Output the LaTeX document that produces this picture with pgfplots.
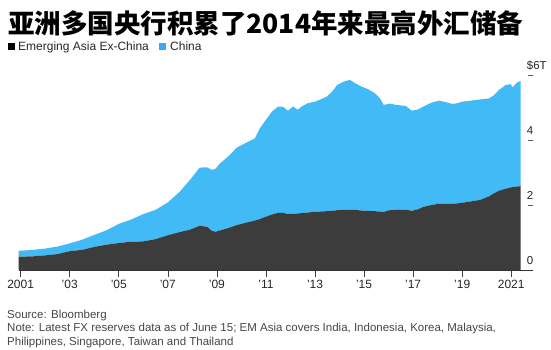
\documentclass[border=0pt]{standalone}
\usepackage{pgfplots}
\usepackage{pgfplotstable}
\pgfplotsset{compat=1.18}
\usepackage{fontspec}
\setmainfont{Liberation Sans}
\newfontfamily\cjk{Noto Sans CJK SC}
\definecolor{cnblue}{RGB}{66,186,245}
\definecolor{emgray}{RGB}{60,60,60}
\definecolor{txtgray}{RGB}{70,70,70}

\pgfplotstableread{
x        em    cn
2000.92  0.41  0.18
2001.5   0.42  0.20
2002.0   0.45  0.21
2002.5   0.49  0.23
2003.0   0.58  0.24
2003.5   0.62  0.31
2004.0   0.71  0.37
2004.5   0.78  0.44
2005.0   0.83  0.59
2005.5   0.87  0.68
2006.0   0.88  0.84
2006.5   0.95  0.90
2007.0   1.07  1.01
2007.5   1.17  1.25
2007.9   1.24  1.53
2008.3   1.36  1.79
2008.6   1.33  1.83
2008.8   1.20  1.88
2008.95  1.18  1.94
2009.1   1.21  2.05
2009.5   1.30  2.22
2009.8   1.38  2.38
2010.2   1.46  2.46
2010.55  1.52  2.53
2010.75  1.57  2.79
2011.0   1.64  2.98
2011.25  1.71  3.17
2011.5   1.76  3.27
2011.7   1.76  3.26
2011.9   1.72  3.18
2012.1   1.73  3.30
2012.3   1.74  3.19
2012.45  1.75  3.28
2012.7   1.77  3.36
2013.0   1.79  3.39
2013.2   1.80  3.44
2013.47  1.81  3.52
2013.7   1.82  3.67
2013.9   1.84  3.85
2014.15  1.85  3.94
2014.42  1.86  3.99
2014.63  1.85  3.90
2014.9   1.83  3.81
2015.17  1.82  3.74
2015.44  1.81  3.63
2015.65  1.80  3.48
2015.8   1.79  3.29
2016.05  1.84  3.28
2016.3   1.85  3.23
2016.7   1.86  3.19
2016.94  1.82  3.08
2017.2   1.87  3.07
2017.45  1.95  3.09
2017.75  2.00  3.15
2018.05  2.04  3.17
2018.25  2.04  3.14
2018.6   2.04  3.07
2018.8   2.05  3.08
2019.0   2.07  3.11
2019.35  2.11  3.10
2019.75  2.16  3.09
2020.1   2.27  3.01
2020.3   2.36  3.02
2020.5   2.44  3.10
2020.77  2.50  3.19
2020.97  2.54  3.18
2021.06  2.55  3.07
2021.22  2.57  3.19
2021.38  2.58  3.24
}\data

\begin{document}
\begin{tikzpicture}[x=1pt,y=1pt]
\useasboundingbox (0,0) rectangle (551,349);
\begin{axis}[
  at={(18.7pt,79pt)}, anchor=south west,
  scale only axis, width=508pt, height=201.5pt,
  xmin=2000.92, xmax=2021.63, ymin=0, ymax=6.2,
  stack plots=y,
  axis on top,
  axis x line*=bottom, axis y line*=right,
  x axis line style={draw=black!80, line width=0.8pt, shorten >=-6.6pt},
  y axis line style={draw=white, line width=0.05pt},
  tick align=outside,
  major tick length=6.5pt,
  xtick={2001,2003,...,2021},
  xticklabels={2001,’03,’05,’07,’09,’11,’13,’15,’17,’19,2021},
  ytick={0,2,4,6},
  yticklabels={0,2,4,\$6T},
  x tick style={draw=black!75, line width=0.6pt},
  y tick style={draw=black!65, line width=1pt},
  xticklabel style={font=\fontsize{12}{14}\selectfont, text=black!85},
  yticklabel style={font=\fontsize{11.5}{13}\selectfont, text=black!85, anchor=base west, inner sep=0pt, xshift=-6.5pt, yshift=6pt},
]
\addplot[fill=emgray, draw=none] table[x=x, y=em]{\data} \closedcycle;
\addplot[fill=cnblue, draw=none] table[x=x, y=cn]{\data} \closedcycle;
\end{axis}
% title
\node[anchor=base west, inner sep=0pt] at (8,316) {\cjk\bfseries\fontsize{26.5}{30}\selectfont 亚洲多国央行积累了2014年来最高外汇储备};
% legend
\fill[black] (8,299.5) rectangle (15,306.5);
\node[anchor=base west, inner sep=0pt, text=black!85] at (18,298.7) {\fontsize{12}{14}\selectfont Emerging Asia Ex-China};
\fill[cnblue!90!blue] (159,299.5) rectangle (166,306.5);
\node[anchor=base west, inner sep=0pt, text=black!85] at (170,298.7) {\fontsize{12}{14}\selectfont China};
% source
\node[anchor=base west, inner sep=0pt, text=txtgray] at (7,30.7) {\fontsize{11.5}{13}\selectfont Source: Bloomberg};
\node[anchor=base west, inner sep=0pt, text=txtgray] at (7,17.2) {\fontsize{11.5}{13}\selectfont Note: Latest FX reserves data as of June 15; EM Asia covers India, Indonesia, Korea, Malaysia,};
\node[anchor=base west, inner sep=0pt, text=txtgray] at (7,3.7) {\fontsize{11.5}{13}\selectfont Philippines, Singapore, Taiwan and Thailand};
\end{tikzpicture}
\end{document}
